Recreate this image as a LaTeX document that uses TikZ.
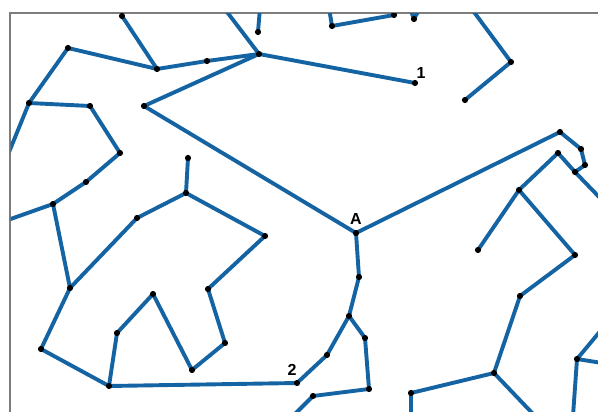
\documentclass[tikz,border=0pt]{standalone}
\usepackage{fontspec}
\setmainfont{Liberation Sans}
\definecolor{edgeblue}{RGB}{20,100,164}
\definecolor{framegray}{RGB}{125,125,125}
\tikzset{
  edge/.style={draw=edgeblue, line width=3.9pt, line cap=round, line join=round},
  dot/.style={circle, fill=black, inner sep=0pt, minimum size=6.2pt},
  lbl/.style={font=\bfseries\fontsize{16}{16}\selectfont, inner sep=0pt},
  framel/.style={draw=framegray, line width=1.2pt}
}
\begin{document}
\begin{tikzpicture}[x=1pt,y=-1pt]
\useasboundingbox (0,0) rectangle (598,412);
% points
\coordinate (tl1) at (122,16);
\coordinate (a1) at (157,69);
\coordinate (a2) at (68,48);
\coordinate (a3) at (207,61);
\coordinate (h) at (259,54);
\coordinate (a4) at (258,32);
\coordinate (a5) at (29,103);
\coordinate (a6) at (90,106);
\coordinate (a7) at (120,153);
\coordinate (a8) at (86,182);
\coordinate (a9) at (53,204);
\coordinate (a10) at (144,106);
\coordinate (A) at (356,233);
\coordinate (one) at (415,83);
\coordinate (b1) at (332,26);
\coordinate (b2) at (394,15);
\coordinate (b3) at (414,19);
\coordinate (c1) at (511,62);
\coordinate (c2) at (465,100);
\coordinate (d1) at (560,132);
\coordinate (d2) at (581,149);
\coordinate (d3) at (585,165);
\coordinate (d4) at (575,172);
\coordinate (d5) at (558,153);
\coordinate (d6) at (519,190);
\coordinate (d7) at (478,250);
\coordinate (d8) at (575,255);
\coordinate (d9) at (520,296);
\coordinate (d10) at (494,373);
\coordinate (d11) at (411,393);
\coordinate (d12) at (577,359);
\coordinate (e1) at (359,277);
\coordinate (e2) at (349,316);
\coordinate (e3) at (365,338);
\coordinate (e4) at (369,389);
\coordinate (e5) at (313,396);
\coordinate (e6) at (327,355);
\coordinate (two) at (297,383);
\coordinate (f1) at (137,218);
\coordinate (f2) at (186,193);
\coordinate (f3) at (188,158);
\coordinate (f4) at (265,236);
\coordinate (f5) at (70,288);
\coordinate (f6) at (208,289);
\coordinate (f7) at (225,343);
\coordinate (f8) at (192,370);
\coordinate (f9) at (153,294);
\coordinate (f10) at (117,333);
\coordinate (f11) at (109,386);
\coordinate (f12) at (41,349);
% free ends
\coordinate (x1) at (260,8);
\coordinate (x2) at (224,8);
\coordinate (x3) at (5,162);
\coordinate (x4) at (5,221);
\coordinate (x5) at (329,8);
\coordinate (x6) at (410,8);
\coordinate (x7) at (420,8);
\coordinate (x8) at (471,8);
\coordinate (x9) at (602,200);
\coordinate (x10) at (411,416);
\coordinate (x11) at (535,416);
\coordinate (x12) at (602,329);
\coordinate (x13) at (602,363);
\coordinate (x14) at (573,416);
\coordinate (x15) at (293,416);
% frame
\draw[framel] (10,412) coordinate (fr1) -- (10,13) coordinate (fr2) -- (598,13) coordinate (fr3);
\begin{scope}
\clip (10.6,13.6) rectangle (598,412);
% top-left cluster
\draw[edge] (tl1) -- (a1);
\draw[edge] (a5) -- (a2) -- (a1) -- (a3) -- (h);
\draw[edge] (x2) -- (h);
\draw[edge] (x1) -- (a4);
\draw[edge] (x3) -- (a5) -- (a6) -- (a7) -- (a8) -- (a9) -- (x4);
\draw[edge] (h) -- (a10) -- (A) -- (d1);
\draw[edge] (h) -- (one);
% top strip
\draw[edge] (x5) -- (b1) -- (b2);
\draw[edge] (x6) -- (b3) -- (x7);
\draw[edge] (x8) -- (c1) -- (c2);
% right cluster
\draw[edge] (d1) -- (d2) -- (d3) -- (d4);
\draw[edge] (d5) -- (d4) -- (x9);
\draw[edge] (d5) -- (d6) -- (d7);
\draw[edge] (d6) -- (d8) -- (d9) -- (d10) -- (d11) -- (x10);
\draw[edge] (d10) -- (x11);
\draw[edge] (x12) -- (d12) -- (x13);
\draw[edge] (d12) -- (x14);
% centre bottom
\draw[edge] (A) -- (e1) -- (e2) -- (e6) -- (two);
\draw[edge] (e2) -- (e3) -- (e4) -- (e5) -- (x15);
% left cluster
\draw[edge] (a9) -- (f5) -- (f1) -- (f2) -- (f3);
\draw[edge] (f2) -- (f4) -- (f6) -- (f7) -- (f8) -- (f9) -- (f10) -- (f11);
\draw[edge] (f5) -- (f12) -- (f11) -- (two);
% dots
\foreach \p in {tl1,a1,a2,a3,h,a4,a5,a6,a7,a8,a9,a10,A,one,b1,b2,b3,c1,c2,
  d1,d2,d3,d4,d5,d6,d7,d8,d9,d10,d11,d12,e1,e2,e3,e4,e5,e6,two,
  f1,f2,f3,f4,f5,f6,f7,f8,f9,f10,f11,f12}
  \node[dot] at (\p) {};
\end{scope}
% labels
\node[lbl] (l1) at (421,73) {1};
\node[lbl] (lA) at (356,219) {A};
\node[lbl] (l2) at (292,370) {2};
\end{tikzpicture}
\end{document}
